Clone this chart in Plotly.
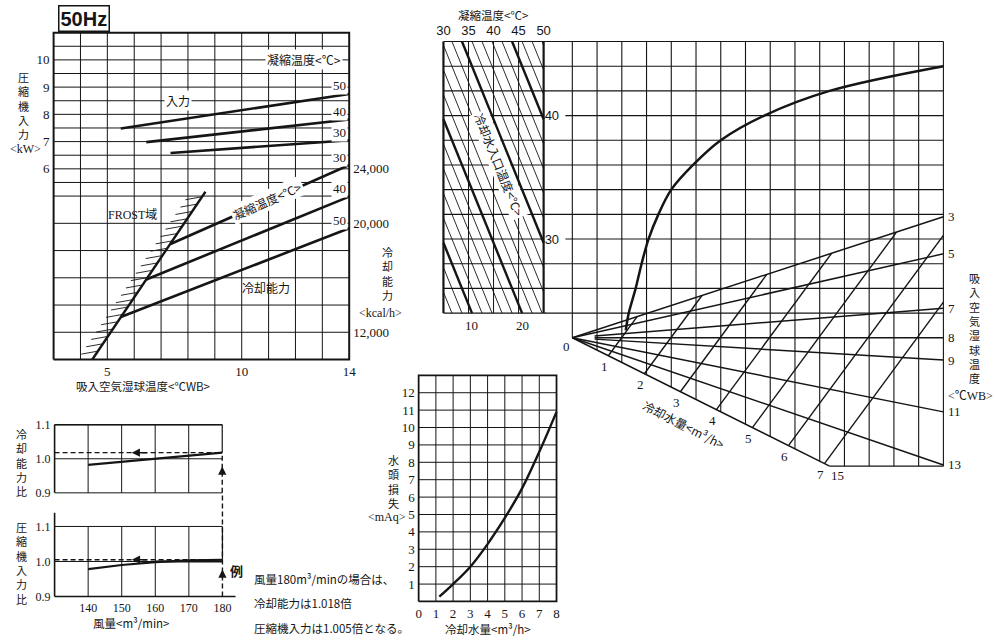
import plotly.graph_objects as go

W, H = 996, 643
JP = "Noto Sans CJK JP"
NUM = "Liberation Serif"
INK = "#151515"
PAD = 3

# ---------------- values ----------------
# top-left: compressor input / cooling capacity vs suction wet-bulb temp
wb_ticks = [5, 10, 14]
wb_grid = [4, 5, 6, 7, 8, 9, 10, 11, 12, 13]
kw_ticks = [6, 7, 8, 9, 10]
kw_grid = [0, 1, 2, 3, 4, 5, 5.5, 6, 6.5, 7, 7.5, 8, 8.5, 9, 9.5, 10, 10.5]
kcal_ticks = [12000, 20000, 24000]
kcal_text = ["12,000", "20,000", "24,000"]

inp_cond = ["50", "40", "30"]
inp_wb = [[5.5, 14.0], [6.45, 14.0], [7.35, 14.0]]
inp_kw = [[7.48, 8.75], [6.98, 7.81], [6.58, 7.05]]

cap_cond = ["30", "40", "50"]
cap_wb = [[7.35, 14.0], [6.45, 14.0], [5.5, 14.0]]
cap_kcal = [[18480, 24280], [15880, 21960], [13120, 19640]]

frost_wb = [4.44, 8.65]
frost_kcal = [10000, 22320]

# bottom-left: ratios vs air flow
air_flow = [140, 150, 160, 170, 180]
cap_ratio = [0.982, 0.991, 1.0, 1.009, 1.018]
inp_ratio = [0.978, 0.990, 0.998, 1.003, 1.005]
ratio_ticks = [0.9, 1.0, 1.1]
ratio_text = ["0.9", "1.0", "1.1"]
ex_flow = 180
ex_cap = 1.018
ex_inp = 1.005

# middle: water head loss vs cooling water flow
water_flow = [1.2, 2, 3, 4, 5, 6, 7, 8]
head_loss = [0.28, 1.0, 2.0, 3.3, 4.8, 6.5, 8.6, 10.9]

# top-right nomograph
cond_ticks = [30, 35, 40, 45, 50]
row_vals = [24, 26, 28, 30, 32, 34, 36, 38, 40, 42, 44, 46]
row_ticks = [30, 40]
inlet_lines = list(range(6, 47, 2))
inlet_thick = [10, 20, 30, 40]
inlet_labels = [10, 20]
inlet_shift = 49.7          # condensing temp + row value = inlet temp + 49.7

col_vals = list(range(16))
fan_wb = [3, 5, 7, 8, 9, 11, 13, 15]
fan_end = [31.8, 28.8, 24.4, 22.0, 20.2, 16.0, 11.7, 7.0]
fan_start = [0, 0, 0.9, 0.9, 0.9, 0, 0, 0]
fan_origin = [0, 22]
fan_bottom = 11.6
flow_marks = [1, 2, 3, 4, 5, 6, 7]
flow_step = 1.456           # columns per m3/h along the 15 line
flow_slope = 2.72
curve_col = [2.16, 2.28, 2.56, 2.8, 3.08, 3.48, 4.0, 4.88, 6.0, 7.76, 10.4, 15.0]
curve_row = [22.6, 24, 26, 28, 30, 32, 34, 36, 38, 40, 42, 44]

fig = go.Figure()


def xspan(p0, p1, v0, v1):
    k = (v1 - v0) / (p1 - p0)
    return dict(domain=[(p0 - PAD) / W, (p1 + PAD) / W], range=[v0 - PAD * k, v1 + PAD * k])


def yspan(pb, pt, vb, vt):
    k = (vt - vb) / (pb - pt)
    return dict(domain=[1 - (pb + PAD) / H, 1 - (pt - PAD) / H], range=[vb - PAD * k, vt + PAD * k])


def lines(segs, xa, ya, width, dash=None, shape="linear"):
    xs, ys = [], []
    for sx, sy in segs:
        xs += list(sx) + [None]
        ys += list(sy) + [None]
    fig.add_trace(go.Scatter(x=xs, y=ys, xaxis=xa, yaxis=ya, mode="lines", hoverinfo="skip",
                             line=dict(color=INK, width=width, dash=dash, shape=shape)))


def P(x, y):
    return dict(x=x / W, y=1 - y / H, xref="paper", yref="paper", xanchor="center", yanchor="middle")


def vtext(s):
    return "<br>".join(s)


base = dict(showgrid=False, zeroline=False, showline=False, ticks="", fixedrange=True,
            tickfont=dict(family=NUM, size=13, color=INK))

# ---------------- top-left ----------------
lines([([v, v], [-1, 11]) for v in wb_grid], "x", "y", 1)
lines([([3, 14], [v, v]) for v in kw_grid], "x", "y", 1)
lines([([3, 14, 14, 3, 3], [-1, -1, 11, 11, -1])], "x", "y", 2)
lines([(inp_wb[i], inp_kw[i]) for i in range(3)], "x", "y", 2.6)
lines([(cap_wb[i], cap_kcal[i]) for i in range(3)], "x", "y2", 2.6)
lines([(frost_wb, frost_kcal)], "x", "y2", 2.4)
hatch = []
n = 22
for i in range(n):
    t = 0.05 + 0.92 * i / (n - 1)
    hx = frost_wb[0] + t * (frost_wb[1] - frost_wb[0])
    hy = frost_kcal[0] + t * (frost_kcal[1] - frost_kcal[0])
    hatch.append(([hx, hx - 0.62], [hy, hy - 220]))
lines(hatch, "x", "y2", 0.9)

# ---------------- bottom-left ----------------
lines([([v, v], [0.9, 1.1]) for v in air_flow[:-1]], "x6", "y6", 1)
lines([([130, 180], [v, v]) for v in ratio_ticks], "x6", "y6", 1)
lines([([130, 130], [0.9, 1.1]), ([130, 180], [1.1, 1.1])], "x6", "y6", 1.6)
lines([([ex_flow, ex_flow], [ex_cap, 1.1])], "x6", "y6", 1.2)
lines([(air_flow, cap_ratio)], "x6", "y6", 2.2)
lines([([130, ex_flow], [ex_cap, ex_cap]), ([ex_flow, ex_flow], [0.9, ex_cap])], "x6", "y6", 1.4, dash="5px,3px")

lines([([v, v], [0.9, 1.1]) for v in air_flow[:-1]], "x7", "y7", 1)
lines([([130, 180], [v, v]) for v in ratio_ticks[1:]], "x7", "y7", 1)
lines([([130, 130], [0.9, 1.139]), ([130, 183.9], [0.9, 0.9])], "x7", "y7", 1.6)
lines([([ex_flow, ex_flow], [ex_inp, 1.1])], "x7", "y7", 1.2)
lines([(air_flow, inp_ratio)], "x7", "y7", 2.2)
lines([([160, 180], [1.0, 1.0])], "x7", "y7", 2.2)
lines([([130, ex_flow], [ex_inp, ex_inp]), ([ex_flow, ex_flow], [0.9, 1.196])], "x7", "y7", 1.4, dash="5px,3px")

# ---------------- middle: head loss ----------------
lines([([v, v], [0, 13]) for v in range(1, 8)], "x5", "y5", 1)
lines([([0, 8], [v, v]) for v in range(1, 13)], "x5", "y5", 1)
lines([([0, 8, 8, 0, 0], [0, 0, 13, 13, 0])], "x5", "y5", 1.8)
lines([(water_flow, head_loss)], "x5", "y5", 2.4, shape="spline")

# ---------------- top-right nomograph ----------------
# left panel: condensing temp vs cooling water inlet temp
lines([([v, v], [row_vals[0], row_vals[-1]]) for v in cond_ticks[1:-1]], "x3", "y3", 1)
lines([([v, v], [row_vals[0], row_vals[-1]]) for v in (cond_ticks[0], cond_ticks[-1])], "x3", "y3", 2.2)
lines([([30, 50 if r in row_ticks else 50.5], [r, r]) for r in row_vals], "x3", "y3", 1.1)
thin, thick = [], []
for t in inlet_lines:
    K = t + inlet_shift
    lo, hi = max(row_vals[0], K - 50), min(row_vals[-1], K - 30)
    if lo < hi:
        (thick if t in inlet_thick else thin).append(([K - lo, K - hi], [lo, hi]))
lines(thin, "x3", "y3", 0.9)
lines(thick, "x3", "y3", 2.4)

# right panel grid
x4_lo = (546 - 573) / 25
line15 = lambda c: fan_origin[1] + (fan_end[-1] - fan_origin[1]) / 15 * c
lines([([x4_lo + (0.8 if r in row_ticks else 0), 15], [r, r]) for r in row_vals], "x4", "y3", 1.1)
lines([([c, c], [max(line15(c), fan_bottom), row_vals[-1]]) for c in col_vals], "x4", "y3", 1.1)
c_bot = (fan_origin[1] - fan_bottom) / (fan_origin[1] - fan_end[-1]) * 15
lines([([c_bot, 15], [fan_bottom, fan_bottom])], "x4", "y3", 1.3)

# fan of wet-bulb lines
fan = []
for wb, ye, xs in zip(fan_wb, fan_end, fan_start):
    k = (ye - fan_origin[1]) / 15
    xe = 15 if ye >= fan_bottom else (fan_bottom - fan_origin[1]) / k
    fan.append(([xs, xe], [fan_origin[1] + k * xs, fan_origin[1] + k * xe]))
lines(fan, "x4", "y3", 1.5)

# cooling-water flow lines
k3 = (fan_end[0] - fan_origin[1]) / 15
flows = []
for m in flow_marks:
    x0 = flow_step * m
    y0 = line15(x0)
    xe = (fan_origin[1] - y0 + flow_slope * x0) / (flow_slope - k3)
    xe = min(xe, 15)
    flows.append(([x0, xe], [y0, y0 + flow_slope * (xe - x0)]))
lines(flows, "x4", "y3", 1.4)
lines([(curve_col, curve_row)], "x4", "y3", 2.5, shape="spline")

# ---------------- axes ----------------
ax = {}
ax["xaxis"] = dict(base, **xspan(50, 348, 3, 14), anchor="y", tickvals=wb_ticks)
ax["yaxis"] = dict(base, **yspan(360, 29, -1, 11), anchor="x", tickvals=kw_ticks)
ax["yaxis2"] = dict(base, **yspan(360, 29, 10000, 34000), anchor="x", overlaying="y", side="right",
                    tickvals=kcal_ticks, ticktext=kcal_text)

ax["xaxis3"] = dict(base, **xspan(443, 544, 30, 50), anchor="y3", side="top", tickvals=cond_ticks,
                    tickfont=dict(family="Liberation Sans", size=13, color=INK))
ax["yaxis3"] = dict(base, **yspan(475.5, 38, 11, 46), anchor="free", position=544 / W, side="right",
                    tickvals=row_ticks, tickfont=dict(family="Liberation Sans", size=13, color=INK))
ax["xaxis4"] = dict(base, **xspan(546, 947, x4_lo, 15), anchor="y3", showticklabels=False)

ax["xaxis5"] = dict(base, **xspan(418, 557, 0, 8), anchor="y5", tickvals=list(range(9)))
ax["yaxis5"] = dict(base, **yspan(605, 376, 0, 13), anchor="x5", tickvals=list(range(1, 13)))

ax["xaxis6"] = dict(base, **xspan(51, 220, 130, 180), anchor="y6", showticklabels=False)
ax["yaxis6"] = dict(base, **yspan(495, 426, 0.9, 1.1), anchor="x6", tickvals=ratio_ticks, ticktext=ratio_text,
                    tickfont=dict(family=NUM, size=12, color=INK))
ax["xaxis7"] = dict(base, **xspan(51, 233.4, 130, 183.9), anchor="y7", tickvals=air_flow,
                    tickfont=dict(family=NUM, size=12, color=INK))
ax["yaxis7"] = dict(base, **yspan(600, 495, 0.9, 1.196), anchor="x7", tickvals=ratio_ticks, ticktext=ratio_text,
                    tickfont=dict(family=NUM, size=12, color=INK))

# ---------------- text ----------------
ann = []
jp = dict(family=JP, size=12, color=INK)
num = dict(family=NUM, size=13, color=INK)

ann.append(dict(P(81, 15), text="<b>50Hz</b>", font=dict(family="Liberation Sans", size=20, color=INK),
                showarrow=False, bordercolor=INK, borderwidth=1.5, borderpad=1, bgcolor="white"))
ann.append(dict(P(20, 103), text=vtext("圧縮機入力"), font=dict(jp, size=11), showarrow=False))
ann.append(dict(P(22, 147), text="&lt;kW&gt;", font=dict(family=NUM, size=12, color=INK), showarrow=False))
ann.append(dict(P(387, 273), text=vtext("冷却能力"), font=dict(jp, size=11), showarrow=False))
ann.append(dict(P(380, 313), text="&lt;kcal/h&gt;", font=dict(family=NUM, size=12, color=INK), showarrow=False))
ann.append(dict(P(140, 387), text="吸入空気湿球温度&lt;℃WB&gt;", font=dict(jp, size=11.5), showarrow=False))
ann.append(dict(x=7.63, y=8.51, xref="x", yref="y", text="入力", font=jp, showarrow=False, bgcolor="white"))
ann.append(dict(x=12.3, y=10, xref="x", yref="y", text="凝縮温度&lt;℃&gt;", font=jp, showarrow=False,
                bgcolor="white"))
ann.append(dict(x=5.93, y=4.29, xref="x", yref="y", text="FROST域", font=dict(jp, family=NUM + ", " + JP),
                showarrow=False))
ann.append(dict(x=10.94, y=21700, xref="x", yref="y2", text="凝縮温度&lt;℃&gt;", font=jp, textangle=-24,
                showarrow=False, bgcolor="white"))
ann.append(dict(x=10.89, y=15280, xref="x", yref="y2", text="冷却能力", font=jp, showarrow=False))
for i in range(3):
    ann.append(dict(x=13.63, y=inp_kw[i][1], xref="x", yref="y", text=inp_cond[i], font=num, yshift=8,
                    showarrow=False, bgcolor="white"))
    ann.append(dict(x=13.63, y=cap_kcal[i][1], xref="x", yref="y2", text=cap_cond[i], font=num, yshift=8,
                    showarrow=False, bgcolor="white"))

# bottom-left
ann.append(dict(P(18, 464), text=vtext("冷却能力比"), font=dict(jp, size=11), showarrow=False))
ann.append(dict(P(18, 566), text=vtext("圧縮機入力比"), font=dict(jp, size=11), showarrow=False))
ann.append(dict(P(128, 627), text="風量&lt;m³/min&gt;", font=dict(jp, size=11.5), showarrow=False))
ann.append(dict(P(234, 574), text="<b>例</b>", font=dict(jp, size=13), showarrow=False))
for xa, ya, yv, lo in (("x6", "y6", ex_cap, 0.955), ("x7", "y7", ex_inp, 0.955)):
    ann.append(dict(x=ex_flow, y=lo + 0.022, ax=ex_flow, ay=lo, xref=xa, yref=ya, axref=xa, ayref=ya,
                    text="", showarrow=True, arrowhead=2, arrowsize=1.1, arrowwidth=1.5, arrowcolor=INK))
    ann.append(dict(x=153, y=yv, ax=158, ay=yv, xref=xa, yref=ya, axref=xa, ayref=ya,
                    text="", showarrow=True, arrowhead=2, arrowsize=1.1, arrowwidth=1.5, arrowcolor=INK))
note = ["風量180m³/minの場合は、", "冷却能力は1.018倍", "圧縮機入力は1.005倍となる。"]
for i, s in enumerate(note):
    ann.append(dict(P(250, 582 + 25 * i), text=s, xanchor="left", font=dict(jp, size=11.5), showarrow=False))

# middle
ann.append(dict(P(393, 484), text=vtext("水頭損失"), font=dict(jp, size=11), showarrow=False))
ann.append(dict(P(386, 519), text="&lt;mAq&gt;", font=dict(family=NUM, size=12, color=INK), showarrow=False))
ann.append(dict(P(488, 633), text="冷却水量&lt;m³/h&gt;", font=dict(jp, size=11.5), showarrow=False))

# nomograph
ann.append(dict(P(493, 11), text="凝縮温度&lt;℃&gt;", font=dict(jp, size=11.5), showarrow=False))
for t in inlet_labels:
    ann.append(dict(x=t + inlet_shift - row_vals[0], y=row_vals[0], xref="x3", yref="y3", text=str(t),
                    font=num, yshift=-12, showarrow=False))
ann.append(dict(x=41.1, y=36, xref="x3", yref="y3", text="冷却水入口温度&lt;℃&gt;", font=jp, textangle=68,
                showarrow=False, bgcolor="white"))
ann.append(dict(x=fan_origin[0], y=fan_origin[1], xref="x4", yref="y3", text="0", font=num,
                xshift=-6, yshift=-9, showarrow=False))
for wb, ye in zip(fan_wb[:-1], fan_end[:-1]):
    ann.append(dict(x=15, y=ye, xref="x4", yref="y3", text=str(wb), font=num, xanchor="left", xshift=3,
                    showarrow=False))
ann.append(dict(x=c_bot, y=fan_bottom, xref="x4", yref="y3", text=str(fan_wb[-1]), font=num,
                xshift=8, yshift=-9, showarrow=False))
for m in flow_marks:
    x0 = flow_step * m
    ann.append(dict(x=x0, y=line15(x0), xref="x4", yref="y3", text=str(m), font=num,
                    xshift=-4, yshift=-11, showarrow=False))
ann.append(dict(x=4.52, y=14.96, xref="x4", yref="y3", text="冷却水量&lt;m³/h&gt;", font=jp, textangle=27,
                showarrow=False))
ann.append(dict(P(978, 328), text=vtext("吸入空気湿球温度"), font=dict(jp, size=11), showarrow=False))
ann.append(dict(P(974, 397), text="&lt;℃WB&gt;", font=dict(family=NUM + ", " + JP, size=12, color=INK),
                showarrow=False))

fig.update_layout(width=W, height=H, margin=dict(l=0, r=0, t=0, b=0), paper_bgcolor="white",
                  plot_bgcolor="rgba(0,0,0,0)", showlegend=False, annotations=ann, **ax)

fig.write_html("out.html", config={"displayModeBar": False},
               post_script="document.body.style.margin='0';")
